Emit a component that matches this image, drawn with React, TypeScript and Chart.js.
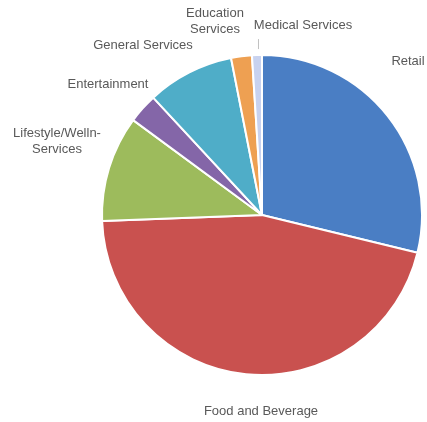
import React, { useEffect, useRef } from "react";
import { Chart, registerables } from "chart.js";

Chart.register(...registerables);

const categories = [
  "Retail",
  "Food and Beverage",
  "Lifestyle/Wellness Services",
  "Entertainment",
  "General Services",
  "Education Services",
  "Medical Services",
];
const shares = [28.8, 45.6, 10.7, 3.0, 8.8, 2.1, 1.0];
const labelLines = [
  ["Retail"],
  ["Food and Beverage"],
  ["Lifestyle/Welln-", "Services"],
  ["Entertainment"],
  ["General Services"],
  ["Education", "Services"],
  ["Medical Services"],
];
const colors = ["#4a7ec4", "#c9514f", "#9dbb5c", "#8466a8", "#4fadc8", "#eea052", "#c8d2ef"];
// label centres relative to the pie centre (layout only)
const labelOffsets = [
  [146, -154],
  [-1, 196],
  [-205, -74],
  [-154, -131],
  [-119, -170],
  [-47, -194],
  [41, -190],
];

const labelPlugin = {
  id: "pieLabels",
  afterDatasetsDraw(chart: any) {
    const ctx = chart.ctx;
    const meta = chart.getDatasetMeta(0);
    ctx.save();
    ctx.font = "13px 'Liberation Sans', Arial, sans-serif";
    ctx.fillStyle = "#595959";
    ctx.textAlign = "center";
    ctx.textBaseline = "middle";
    meta.data.forEach((arc: any, i: number) => {
      const cx = arc.x + labelOffsets[i][0];
      const cy = arc.y + labelOffsets[i][1];
      const lines = labelLines[i];
      const lh = 16;
      lines.forEach((ln, k) => {
        ctx.fillText(ln, cx, cy + (k - (lines.length - 1) / 2) * lh);
      });
    });
    // leader line for the smallest slice
    const last = meta.data[meta.data.length - 1];
    const mid = (last.startAngle + last.endAngle) / 2;
    const r = last.outerRadius;
    const px = last.x + Math.cos(mid) * r;
    const py = last.y + Math.sin(mid) * r;
    ctx.strokeStyle = "#c0c0c0";
    ctx.lineWidth = 1;
    ctx.beginPath();
    ctx.moveTo(px + 1.5, py - 6);
    ctx.lineTo(px + 1.5, py - 16);
    ctx.stroke();
    ctx.restore();
  },
};

export default function App() {
  const ref = useRef<HTMLCanvasElement>(null);
  useEffect(() => {
    const chart = new Chart(ref.current!, {
      type: "pie",
      data: {
        labels: categories,
        datasets: [
          {
            data: shares,
            backgroundColor: colors,
            borderColor: "#ffffff",
            borderWidth: 2,
          },
        ],
      },
      options: {
        responsive: false,
        animation: false,
        layout: { padding: { left: 101, right: 4, top: 54, bottom: 46 } },
        plugins: { legend: { display: false }, tooltip: { enabled: false } },
      },
      plugins: [labelPlugin],
    });
    return () => chart.destroy();
  }, []);
  return (
    <div style={{ position: "fixed", left: 0, top: 0, width: 427, height: 422, background: "#fff" }}>
      <canvas ref={ref} width={427} height={422} />
    </div>
  );
}
